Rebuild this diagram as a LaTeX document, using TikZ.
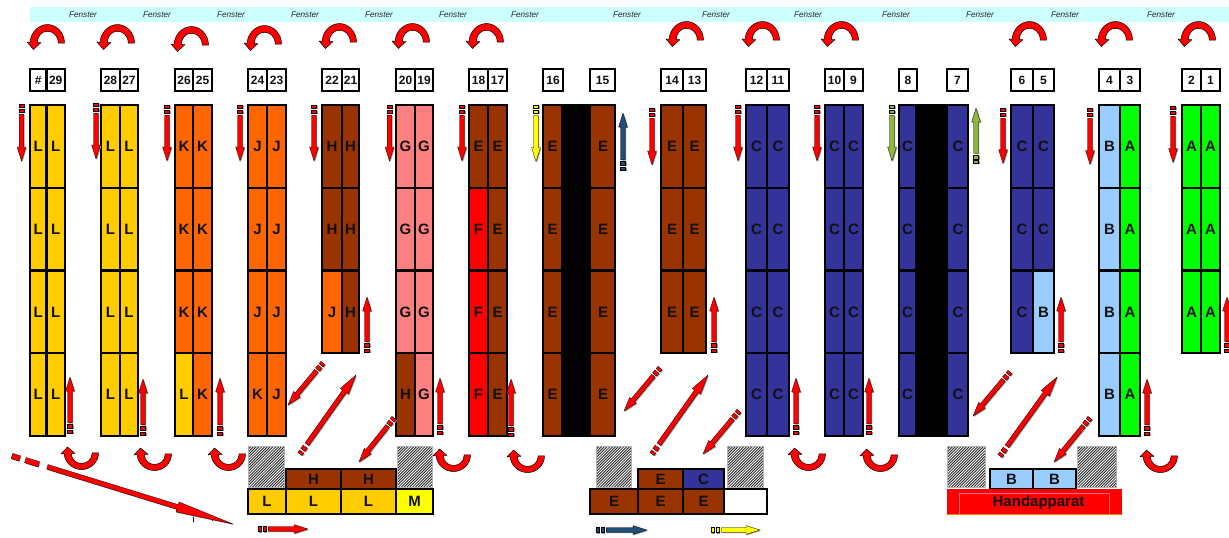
\documentclass[tikz,border=0pt]{standalone}
\usepackage{fontspec}
\setmainfont{Liberation Sans}
\definecolor{cL}{HTML}{FFCC00}
\definecolor{cK}{HTML}{FF6600}
\definecolor{cH}{HTML}{993300}
\definecolor{cG}{HTML}{FF8080}
\definecolor{cF}{HTML}{FF0000}
\definecolor{cC}{HTML}{333399}
\definecolor{cB}{HTML}{99CCFF}
\definecolor{cA}{HTML}{00FF00}
\definecolor{cM}{HTML}{FFFF00}
\definecolor{cW}{HTML}{FFFFFF}
\definecolor{cBand}{HTML}{CCFFFF}
\definecolor{cNavy}{HTML}{1F4E79}
\definecolor{cLeaf}{HTML}{8DB83C}
\definecolor{cTxt}{HTML}{111111}
\tikzset{
  lettertext/.style={font=\fontsize{15}{15}\selectfont\bfseries,text=cTxt,text height=10.7pt,text depth=0pt},
  cellbox/.style={draw=black,line width=2.2pt,inner sep=0pt,outer sep=0pt,lettertext},
  numbox/.style={cellbox,fill=white,font=\fontsize{12}{13}\selectfont\bfseries,text height=8.8pt},
  fensterlabel/.style={inner sep=0pt,font=\fontsize{8.2}{9}\selectfont\itshape,text=black!85},
  swing/.style={fill=red,draw=black,line width=0.5pt,line join=round},
  pen/.style={line width=0.3pt,draw=black,line join=miter},
}
% x1,x2,y1,y2,colour,letter
\newcommand\blk[6]{\node[cellbox,fill=c#5,minimum width={(#2)-(#1)},minimum height={(#4)-(#3)}]
  (b-#1-#3) at ({((#1)+(#2))/2},{((#3)+(#4))/2}) {#6};}
% x1,xm,x2,row,c1,l1,c2,l2
\newcommand\rowpair[8]{%
  \pgfmathsetmacro\ya{105+82.7*(#4)}\pgfmathsetmacro\yb{105+82.7*(#4+1)}%
  \blk{#1}{#2}{\ya}{\yb}{#5}{#6}\blk{#2}{#3}{\ya}{\yb}{#7}{#8}}
\newcommand\num[4]{\node[numbox,minimum width={(#2)-(#1)},minimum height=22pt] (n-#3) at ({((#1)+(#2))/2},80) {#4};}
\newcommand\swingshape{
  \path[swing] (37.5,19) .. controls (37.5,8.8) and (29.6,0.5) .. (20.5,0.5)
    .. controls (11.4,0.5) and (3.5,8.8) .. (3.2,18) -- (0,18) -- (6.5,25.5) -- (14,18.5) -- (10.3,18.5)
    .. controls (10.5,11.5) and (15,7.3) .. (20.5,7.3)
    .. controls (26,7.3) and (31.2,11.5) .. (31.2,19) -- cycle;}
\newcommand\swingtop[2]{\begin{scope}[shift={(#1,#2)}]\swingshape\end{scope}}
\newcommand\swingbot[2]{\begin{scope}[shift={(#1,#2+23)},yscale=-0.9]\swingshape\end{scope}}
\newcommand\penshape[8]{
  \path[#1] (0,-#4-0.3) rectangle (#5,#4+0.3);
  \path[#1] (#6,-#4-0.3) rectangle (#7,#4+0.3);
  \path[#1] (#8,-#4) -- (\pl-#2,-#4) -- (\pl-#2,-#3) -- (\pl,0) -- (\pl-#2,#3) -- (\pl-#2,#4) -- (#8,#4) -- cycle;}
\newcommand\penx[9]{\def\pcol{#1}\def\pxa{#2}\def\pya{#3}\def\pxb{#4}\def\pyb{#5}\def\phl{#6}\def\phw{#7}\def\psw{#8}\def\ptail{#9}\penxdo}
\newcommand\penxdo{%
  \pgfmathsetmacro\pl{veclen(\pxb-\pxa,\pyb-\pya)}%
  \pgfmathsetmacro\pang{-atan2(\pyb-\pya,\pxb-\pxa)}%
  \expandafter\penxtail\ptail\relax}
\def\penxtail#1/#2/#3/#4/#5/#6\relax{%
  \begin{scope}[shift={(\pxa+0.9,\pya+0.9)},rotate=\pang]
    \penshape{fill=black!40}{\phl}{\phw}{\psw}{#1}{#2}{#3}{#5}
  \end{scope}
  \begin{scope}[shift={(\pxa,\pya)},rotate=\pang]
    \penshape{pen,fill=\pcol}{\phl}{\phw}{\psw}{#1}{#2}{#3}{#5}
  \end{scope}}
\newcommand\penarrow[5]{\penx{#1}{#2}{#3}{#4}{#5}{14}{4.4}{2.3}{3/4.7/8.5/0/10.2/}}
\newcommand\hatchbox[4]{\begin{scope}
   \clip (#1,#3) rectangle (#2,#4);
   \fill[white] (#1,#3) rectangle (#2,#4);
   \foreach \k in {-60,-57.2,...,60} \draw[line width=0.85pt,black!85] ({#1+\k},#4) -- ({#1+\k+60},{#4-60});
 \end{scope}
 \draw[black!30,line width=0.8pt] (#1,#3) rectangle (#2,#4);}
\begin{document}
\begin{tikzpicture}[x=1pt,y=-1pt]
\useasboundingbox (0,0) rectangle (1229,538);
\fill[cBand] (30,7) rectangle (1229,22);
\foreach \fx in {83,157,231,305,379,453,525,627,716,808,896,980,1065,1161}
  \node[fensterlabel] (f-\fx) at (\fx,14.5) {Fenster};
% swings
\swingtop{27}{24}\swingtop{97}{24}\swingtop{171}{26}\swingtop{244}{25}\swingtop{319}{23}\swingtop{392}{23}\swingtop{466}{23}
\swingtop{666}{21}\swingtop{742}{21}\swingtop{821}{21}\swingtop{1009}{21}\swingtop{1095}{21}\swingtop{1178}{21}
\swingbot{61}{447}\swingbot{134}{448}\swingbot{208}{448}\swingbot{433}{449}\swingbot{507}{450}\swingbot{788}{448}\swingbot{860}{449}\swingbot{1140}{450}
% number boxes
\num{30}{46.5}{29a}{\#}\num{46.5}{65}{29}{29}
\num{101}{120}{28}{28}\num{120}{138}{27}{27}
\num{175}{193}{26}{26}\num{193}{212}{25}{25}
\num{248}{267}{24}{24}\num{267}{286}{23}{23}
\num{322}{342}{22}{22}\num{342}{359}{21}{21}
\num{396}{415}{20}{20}\num{415}{433}{19}{19}
\num{469}{488}{18}{18}\num{488}{507}{17}{17}
\num{543}{563}{16}{16}\num{590}{615}{15}{15}
\num{661}{683}{14}{14}\num{683}{706}{13}{13}
\num{746}{767}{12}{12}\num{767}{789}{11}{11}
\num{825}{844}{10}{10}\num{844}{863}{9}{9}
\num{899}{917}{8}{8}\num{947}{968}{7}{7}
\num{1011}{1033}{6}{6}\num{1033}{1054}{5}{5}
\num{1099}{1120}{4}{4}\num{1120}{1140}{3}{3}
\num{1182}{1201}{2}{2}\num{1201}{1220}{1}{1}
% columns
\foreach \r in {0,...,3}{\rowpair{30}{46.5}{65}{\r}{L}{L}{L}{L}\rowpair{101}{120}{138}{\r}{L}{L}{L}{L}}
\foreach \r in {0,1,2}{\rowpair{175}{193}{212}{\r}{K}{K}{K}{K}\rowpair{248}{267}{286}{\r}{K}{J}{K}{J}\rowpair{396}{415}{433}{\r}{G}{G}{G}{G}}
\rowpair{175}{193}{212}{3}{L}{L}{K}{K}
\rowpair{248}{267}{286}{3}{K}{K}{K}{J}
\rowpair{322}{342}{359}{0}{H}{H}{H}{H}\rowpair{322}{342}{359}{1}{H}{H}{H}{H}\rowpair{322}{342}{359}{2}{K}{J}{H}{H}
\rowpair{396}{415}{433}{3}{H}{H}{G}{G}
\rowpair{469}{488}{507}{0}{H}{E}{H}{E}
\foreach \r in {1,2,3}{\rowpair{469}{488}{507}{\r}{F}{F}{H}{E}}
\foreach \r in {0,...,3}{\rowpair{543}{562}{615}{\r}{H}{E}{H}{}
  \rowpair{825}{844}{863}{\r}{C}{C}{C}{C}
  \rowpair{746}{767}{789}{\r}{C}{C}{C}{C}
  \rowpair{899}{916}{968}{\r}{C}{C}{C}{}
  \rowpair{1099}{1120}{1140}{\r}{B}{B}{A}{A}}
\fill[black] (562,104) rectangle (591,437);
\fill[black] (916,104) rectangle (948,437);
\foreach \r/\ry in {a/146.4,b/229.1,c/311.8,d/394.5}{
  \node[inner sep=0pt,lettertext] (e15\r) at (603,\ry) {E};
  \node[inner sep=0pt,lettertext] (c7\r) at (958,\ry) {C};}
\foreach \r in {0,1,2}{\rowpair{661}{683}{706}{\r}{H}{E}{H}{E}\rowpair{1182}{1201}{1220}{\r}{A}{A}{A}{A}}
\rowpair{1011}{1033}{1054}{0}{C}{C}{C}{C}\rowpair{1011}{1033}{1054}{1}{C}{C}{C}{C}\rowpair{1011}{1033}{1054}{2}{C}{C}{B}{B}
% hatched boxes
\hatchbox{248}{284}{446}{487}\hatchbox{397}{432}{446}{487}\hatchbox{596}{631}{446}{487}
\hatchbox{727}{763}{446}{487}\hatchbox{947}{985}{446}{487}\hatchbox{1077}{1116}{446}{487}
% bottom blocks
\blk{286}{341}{469}{489}{H}{H}\blk{341}{396}{469}{489}{H}{H}
\blk{248}{286}{489}{514}{L}{L}\blk{286}{341}{489}{514}{L}{L}\blk{341}{396}{489}{514}{L}{L}\blk{396}{433}{489}{514}{M}{M}
\blk{638}{683}{469}{489}{H}{E}\blk{683}{724}{469}{489}{C}{C}
\blk{590}{638}{489}{514}{H}{E}\blk{638}{683}{489}{514}{H}{E}\blk{683}{724}{489}{514}{H}{E}\blk{724}{767}{489}{514}{W}{}
\blk{990}{1033}{469}{489}{B}{B}\blk{1033}{1076}{469}{489}{B}{B}
\fill[red] (947,489) rectangle (1122,515);
\draw[orange,line width=0.7pt] (947,514.3) -- (1122,514.3);
\draw[red!55!white,line width=0.7pt] (959,514) -- (959,493) -- (1109,493) -- (1109,514);
\node[inner sep=0pt,font=\fontsize{15}{15}\selectfont\bfseries,text=cTxt] (hand) at (1038.5,503) {Handapparat};
% vertical pens, down
\penarrow{red}{21.5}{104}{21.5}{161}
\penarrow{red}{96}{103}{96}{159}
\penarrow{red}{167}{105}{167}{161}
\penarrow{red}{240}{105}{240}{161}
\penarrow{red}{314}{105}{314}{161}
\penarrow{red}{389.5}{105}{389.5}{161}
\penarrow{red}{462}{105}{462}{161}
\penarrow{cM}{536}{105}{536}{161.5}
\penarrow{red}{652}{108}{652}{165}
\penarrow{red}{738}{105}{738}{161}
\penarrow{red}{817}{105}{817}{161}
\penarrow{cLeaf}{892}{105}{892}{161}
\penarrow{red}{1003}{108}{1003}{163.5}
\penarrow{red}{1090}{108}{1090}{164.5}
\penarrow{red}{1173}{106}{1173}{162.5}
% vertical pens, up
\penarrow{cNavy}{623}{170}{623}{113}
\penarrow{cLeaf}{976}{163.5}{976}{108}
\penarrow{red}{70}{433}{70}{377}
\penarrow{red}{143}{435}{143}{379}
\penarrow{red}{220}{435}{220}{378}
\penarrow{red}{367}{352}{367}{297}
\penarrow{red}{440}{434}{440}{378}
\penarrow{red}{511}{436}{511}{379}
\penarrow{red}{714}{352}{714}{297}
\penarrow{red}{796}{434}{796}{378}
\penarrow{red}{869}{434}{869}{378}
\penarrow{red}{1061}{352}{1061}{297}
\penarrow{red}{1147}{435}{1147}{379}
\penarrow{red}{1227}{352}{1227}{297}
% diagonals
\penarrow{red}{323}{363}{288}{405}
\penx{red}{300}{454}{356}{375}{20}{5}{2.3}{3/5/9/0/12/}
\penarrow{red}{394}{418}{359}{462}
\penarrow{red}{660}{368}{624}{411}
\penx{red}{652}{454}{708}{375}{20}{5}{2.3}{3/5/9/0/12/}
\penarrow{red}{739}{411}{703}{454}
\penarrow{red}{1010}{372}{973}{416}
\penx{red}{1000}{456}{1057}{377}{20}{5}{2.3}{3/5/9/0/12/}
\penarrow{red}{1090}{418}{1054}{462}
% long arrow
\draw[black,line width=0.6pt] (193,517) -- (193,522) (212,518) -- (212,521);
\penx{red}{12}{456}{233}{524}{58}{5.2}{2.4}{8/14/28/0/37/}
% horizontal pens
\penarrow{red}{258}{529}{308}{529}
\penarrow{cNavy}{596}{530}{647}{530}
\penarrow{cM}{711}{530}{760}{530}
\end{tikzpicture}
\end{document}
